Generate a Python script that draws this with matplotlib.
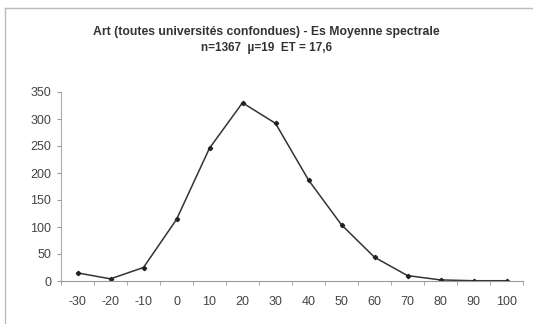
import matplotlib.pyplot as plt
from matplotlib.lines import Line2D

plt.rcParams['font.family'] = ['Liberation Sans', 'DejaVu Sans']

# données
categories = ['-30', '-20', '-10', '0', '10', '20', '30', '40', '50', '60', '70', '80', '90', '100']
effectifs = [15, 4, 25, 114, 246, 330, 292, 187, 104, 44, 10, 2, 0.5, 0.5]

titre = "Art (toutes universités confondues) - Es Moyenne spectrale"
sous_titre = "n=1367  µ=19  ET = 17,6"

fig = plt.figure(figsize=(5.33, 3.24), dpi=100)
ax = fig.add_axes([61 / 533, 1 - 281 / 324, (523 - 61) / 533, (281 - 92) / 324])

x = list(range(len(categories)))
ax.plot(x, effectifs, color='#333333', lw=1.1, marker='D', ms=2.2,
        markerfacecolor='#222222', markeredgecolor='#222222')

ax.set_xlim(-0.5, len(categories) - 0.5)
ax.set_ylim(0, 350)
ax.set_yticks(range(0, 351, 50))
ax.set_xticks(x)
ax.set_xticklabels(categories)
ax.set_xticks([i - 0.5 for i in range(len(categories) + 1)], minor=True)
ax.tick_params(axis='x', which='major', length=0, pad=11, labelsize=9, colors='#444444')
ax.tick_params(axis='x', which='minor', length=3, direction='out', color='#999999')
ax.tick_params(axis='y', length=3, direction='out', color='#999999', labelsize=9,
               labelcolor='#444444', pad=4)

for s in ['top', 'right']:
    ax.spines[s].set_visible(False)
ax.spines['left'].set_color('#aaaaaa')
ax.spines['bottom'].set_color('#999999')
ax.spines['left'].set_linewidth(0.8)
ax.spines['bottom'].set_linewidth(0.8)

fig.text(0.5, 1 - 32 / 324, titre, ha='center', va='center', fontsize=8.8,
         fontweight='bold', color='#333333')
fig.text(0.5, 1 - 48 / 324, sous_titre, ha='center', va='center', fontsize=8.5,
         fontweight='bold', color='#333333')

# cadre de la zone de graphique
fig.add_artist(Line2D([5 / 533, 5 / 533], [0, 1 - 8 / 324], transform=fig.transFigure,
                      color='#bbbbbb', lw=1))
fig.add_artist(Line2D([5 / 533, 1], [1 - 8 / 324, 1 - 8 / 324], transform=fig.transFigure,
                      color='#bbbbbb', lw=1))

fig.savefig('out.png', dpi=100)
